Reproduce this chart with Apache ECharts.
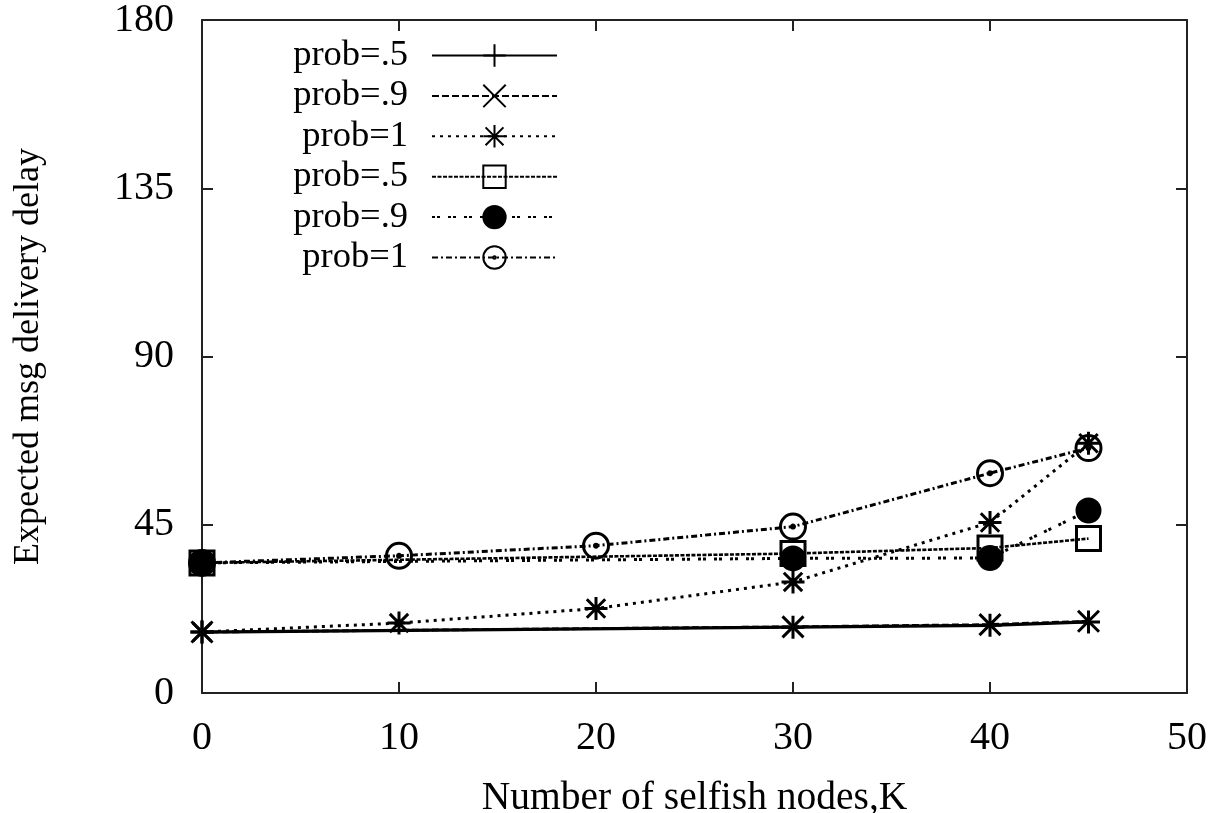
<!DOCTYPE html>
<html>
<head>
<meta charset="utf-8">
<script src="https://cdn.jsdelivr.net/npm/echarts@6/dist/echarts.min.js"></script>
<style>
html,body{margin:0;padding:0;background:#fff;}
#chart{width:1225px;height:813px;}
</style>
</head>
<body>
<div id="chart"></div>
<script>
// ---- data ----
const xTicks = [0, 10, 20, 30, 40, 50];
const yTicks = [0, 45, 90, 135, 180];
const kSparse = [0, 30, 40, 45];
const kFull = [0, 10, 20, 30, 40, 45];
const seriesNames = ['prob=.5 a', 'prob=.9 a', 'prob=1 a', 'prob=.5 b', 'prob=.9 b', 'prob=1 b'];
const plusA = [16.3, 17.6, 18.1, 19.0];          // prob=.5 (solid, +)
const crossA = [16.3, 17.7, 18.3, 19.2];         // prob=.9 (dashed, x)
const starA = [16.3, 18.7, 22.6, 29.7, 45.6, 66.8]; // prob=1 (dotted, *)
const squareB = [34.8, 37.3, 38.8, 41.3];        // prob=.5 (fine dotted, open square)
const dotB = [34.8, 36.0, 36.1, 48.8];           // prob=.9 (-- --, filled circle)
const circleB = [34.8, 36.7, 39.4, 44.5, 58.8, 65.5]; // prob=1 (dash-dot, open circle)

const FONT = 'Liberation Serif';
const pair = (xs, ys) => xs.map((x, i) => [x, ys[i]]);

const SYM = {
  plus: 'path://M0,-10L0,10M-10,0L10,0',
  cross: 'path://M-10,-10L10,10M-10,10L10,-10',
  star: 'path://M0,-10L0,10M-10,0L10,0M-8,-8L8,8M-8,8L8,-8',
  square: 'path://M-10,-10L10,-10L10,10L-10,10Z',
  ring: 'path://M-10,0A10,10,0,1,1,10,0A10,10,0,1,1,-10,0ZM-1.2,0A1.2,1.2,0,1,1,1.2,0A1.2,1.2,0,1,1,-1.2,0Z'
};

function mk(name, xs, ys, symbol, size, dash, fill, width) {
  return {
    name: name,
    type: 'line',
    data: pair(xs, ys),
    symbol: symbol,
    symbolSize: size,
    showAllSymbol: true,
    lineStyle: { color: '#000', width: width, type: dash },
    itemStyle: { color: fill, borderColor: '#000', borderWidth: 3 },
    emphasis: { disabled: true },
    animation: false
  };
}

const series = [
  mk(seriesNames[0], kSparse, plusA, SYM.plus, 23, 'solid', 'rgba(0,0,0,0)', 3.2),
  mk(seriesNames[1], kSparse, crossA, SYM.cross, 21, [7, 3], 'rgba(0,0,0,0)', 2.8),
  mk(seriesNames[2], kFull, starA, SYM.star, 23, [3, 5], 'rgba(0,0,0,0)', 3),
  mk(seriesNames[3], kSparse, squareB, SYM.square, 24, [4, 1.5], 'rgba(0,0,0,0)', 2.6),
  mk(seriesNames[4], kSparse, dotB, 'circle', 23, [3, 2, 3, 8], '#000', 3),
  mk(seriesNames[5], kFull, circleB, SYM.ring, 25, [6, 3, 2, 3], 'rgba(0,0,0,0)', 3)
];

function axisLine() { return { show: true, onZero: false, lineStyle: { color: '#222', width: 2 } }; }
function tick() { return { show: true, inside: true, length: 11, lineStyle: { color: '#222', width: 2 } }; }

const option = {
  backgroundColor: '#fff',
  animation: false,
  grid: { left: 202, right: 38, top: 20, bottom: 120, containLabel: false, outerBoundsMode: 'none' },
  legend: {
    orient: 'vertical',
    align: 'right',
    left: 288,
    top: 37,
    padding: 0,
    itemWidth: 125,
    itemHeight: 28,
    itemGap: 3.4,
    selectedMode: false,
    data: seriesNames,
    formatter: n => '{a|' + n.split(' ')[0] + '}',
    textStyle: {
      rich: {
        a: { fontFamily: FONT, fontSize: 36.5, color: '#000', width: 120, align: 'right', lineHeight: 30, padding: [0, 19, 0, 0] }
      }
    }
  },
  xAxis: [
    {
      type: 'value', position: 'bottom', min: xTicks[0], max: xTicks[xTicks.length - 1], interval: 10,
      axisLine: axisLine(), axisTick: tick(), splitLine: { show: false },
      axisLabel: { fontFamily: FONT, fontSize: 40, color: '#000', margin: 25 },
      name: 'Number of selfish nodes,K', nameLocation: 'middle', nameGap: 86,
      nameTextStyle: { fontFamily: FONT, fontSize: 39.5, color: '#000' }
    },
    {
      type: 'value', position: 'top', min: xTicks[0], max: xTicks[xTicks.length - 1], interval: 10,
      axisLine: axisLine(), axisTick: tick(), axisLabel: { show: false }, splitLine: { show: false }
    }
  ],
  yAxis: [
    {
      type: 'value', position: 'left', min: yTicks[0], max: yTicks[yTicks.length - 1], interval: 45,
      axisLine: axisLine(), axisTick: tick(), splitLine: { show: false },
      axisLabel: { fontFamily: FONT, fontSize: 40, color: '#000', margin: 28 },
      name: 'Expected msg delivery delay', nameLocation: 'middle', nameGap: 155, nameRotate: 90,
      nameTextStyle: { fontFamily: FONT, fontSize: 36, color: '#000' }
    },
    {
      type: 'value', position: 'right', min: yTicks[0], max: yTicks[yTicks.length - 1], interval: 45,
      axisLine: axisLine(), axisTick: tick(), axisLabel: { show: false }, splitLine: { show: false }
    }
  ],
  series: series
};

const chart = echarts.init(document.getElementById('chart'), null, { renderer: 'canvas' });
chart.setOption(option);
</script>
</body>
</html>
